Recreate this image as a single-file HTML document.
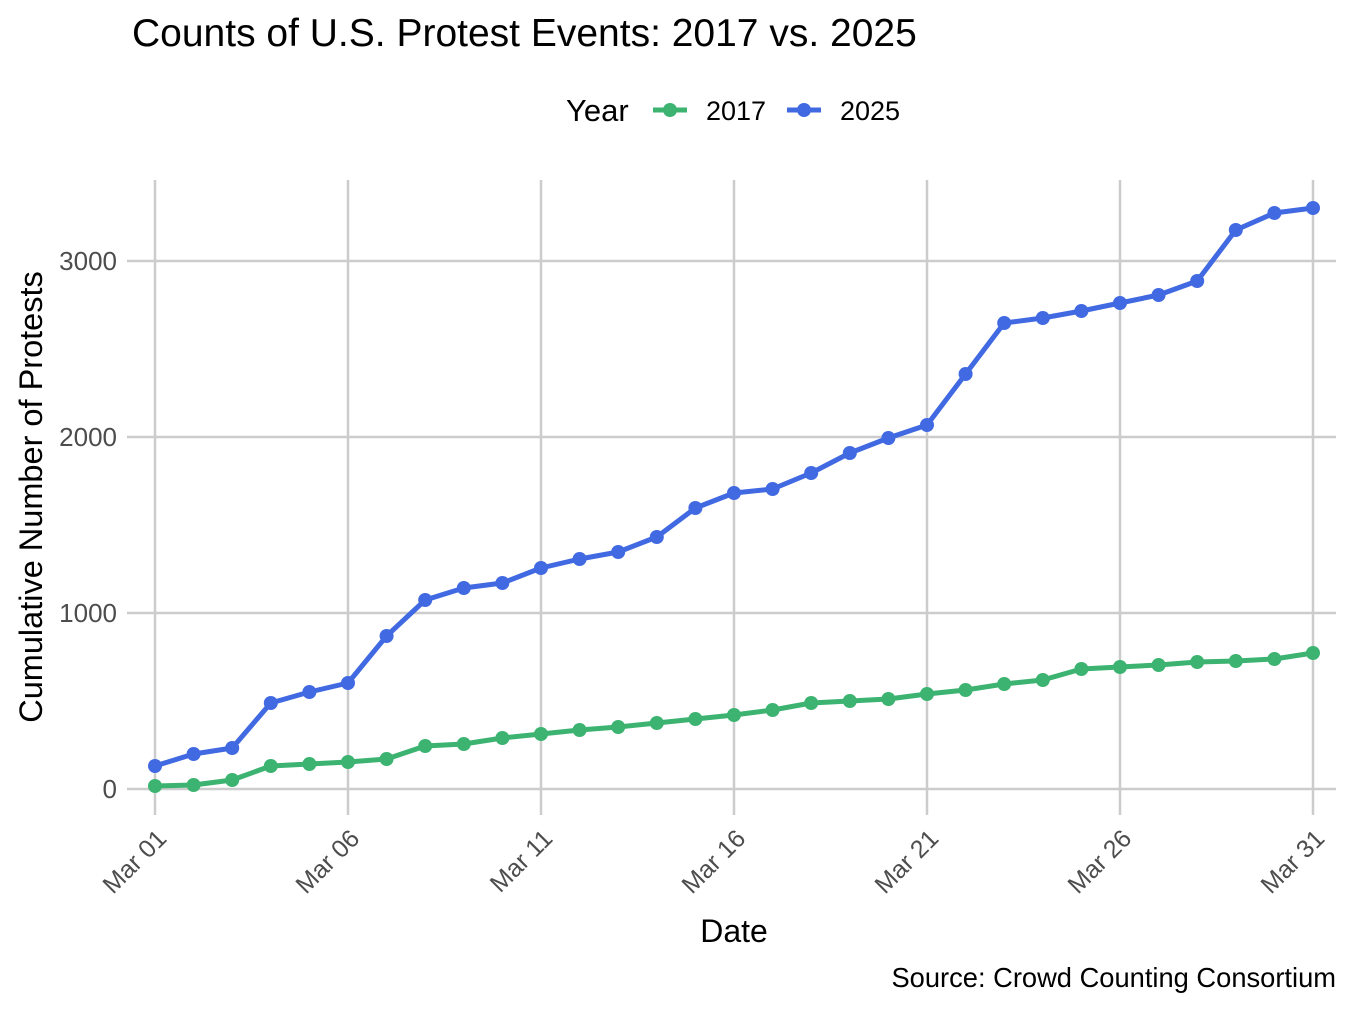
<!DOCTYPE html>
<html><head><meta charset="utf-8"><style>body{margin:0;background:#fff}svg{display:block}</style></head>
<body>
<svg width="1353" height="1009" xmlns="http://www.w3.org/2000/svg" font-family="Liberation Sans, sans-serif">
<text x="132" y="46" font-size="39" fill="#000">Counts of U.S. Protest Events: 2017 vs. 2025</text>
<text x="566" y="121" font-size="31">Year</text>
<line x1="653" y1="110" x2="687" y2="110" stroke="#3CB371" stroke-width="5"/><circle cx="670" cy="110" r="7" fill="#3CB371"/>
<text x="706" y="120" font-size="27">2017</text>
<line x1="787" y1="110" x2="821" y2="110" stroke="#4169E1" stroke-width="5"/><circle cx="804" cy="110" r="7" fill="#4169E1"/>
<text x="840" y="120" font-size="27">2025</text>
<g stroke="#cccccc" stroke-width="2.5">
<line x1="155" y1="180" x2="155" y2="815"/><line x1="348" y1="180" x2="348" y2="815"/><line x1="541" y1="180" x2="541" y2="815"/><line x1="734" y1="180" x2="734" y2="815"/><line x1="927" y1="180" x2="927" y2="815"/><line x1="1120" y1="180" x2="1120" y2="815"/><line x1="1313" y1="180" x2="1313" y2="815"/>
<line x1="127" y1="789" x2="1336" y2="789"/><line x1="127" y1="613" x2="1336" y2="613"/><line x1="127" y1="437" x2="1336" y2="437"/><line x1="127" y1="261" x2="1336" y2="261"/>
</g>
<g font-size="26" fill="#4d4d4d" text-anchor="end">
<text x="117" y="798">0</text><text x="117" y="622">1000</text><text x="117" y="446">2000</text><text x="117" y="270">3000</text>
</g>
<g font-size="25" fill="#4d4d4d" text-anchor="end">
<text transform="translate(168,840) rotate(-45)">Mar 01</text>
<text transform="translate(361,840) rotate(-45)">Mar 06</text>
<text transform="translate(554,840) rotate(-45)">Mar 11</text>
<text transform="translate(747,840) rotate(-45)">Mar 16</text>
<text transform="translate(940,840) rotate(-45)">Mar 21</text>
<text transform="translate(1133,840) rotate(-45)">Mar 26</text>
<text transform="translate(1326,840) rotate(-45)">Mar 31</text>
</g>
<text x="734" y="942" font-size="32" text-anchor="middle">Date</text>
<text transform="translate(42,497) rotate(-90)" font-size="32.5" text-anchor="middle">Cumulative Number of Protests</text>
<text x="1336" y="987" font-size="27.3" text-anchor="end">Source: Crowd Counting Consortium</text>
<g id="plot"></g>
<script>
var g=[786,785,780,766,764,762,759,746,744,738,734,730,727,723,719,715,710,703,701,699,694,690,684,680,669,667,665,662,661,659,653];
var b=[766,754,748,703,692,683,636,600,588,583,568,559,552,537,508,493,489,473,453,438,425,374,323,318,311,303,295,281,230,213,208];
var ns="http://www.w3.org/2000/svg",p=document.getElementById('plot');
function s(a,c){var pts=a.map(function(y,i){return (155+i*38.6).toFixed(1)+","+y}).join(" ");
var l=document.createElementNS(ns,"polyline");l.setAttribute("points",pts);l.setAttribute("fill","none");l.setAttribute("stroke",c);l.setAttribute("stroke-width","5");l.setAttribute("stroke-linejoin","round");p.appendChild(l);
a.forEach(function(y,i){var e=document.createElementNS(ns,"circle");e.setAttribute("cx",155+i*38.6);e.setAttribute("cy",y);e.setAttribute("r","7");e.setAttribute("fill",c);p.appendChild(e);});}
s(g,"#3CB371");s(b,"#4169E1");
</script>
</svg>
</body></html>
